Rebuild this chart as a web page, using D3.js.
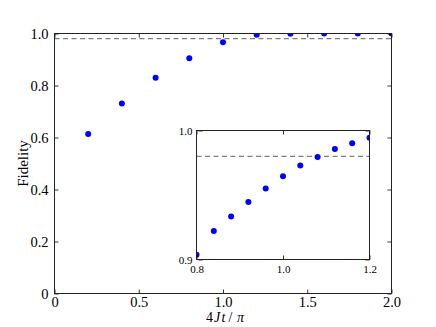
<!DOCTYPE html>
<html>
<head>
<meta charset="utf-8">
<script src="https://cdn.jsdelivr.net/npm/d3@7"></script>
<style>
  html, body { margin: 0; padding: 0; background: #fff; }
  svg { display: block; }
  text { font-family: "Liberation Serif", "Times New Roman", serif; fill: #000; }
</style>
</head>
<body>
<svg id="chart" width="436" height="327"></svg>
<script>
// ---- data ----
const mainT = [0.2, 0.4, 0.6, 0.8, 1.0, 1.2, 1.4, 1.6, 1.8, 2.0];
const mainFidelity = [0.613, 0.731, 0.830, 0.905, 0.966, 0.995, 0.9995, 0.9998, 0.9999, 1.0];
const insetT = [0.80, 0.84, 0.88, 0.92, 0.96, 1.00, 1.04, 1.08, 1.12, 1.16, 1.20];
const insetFidelity = [0.9036, 0.9221, 0.9333, 0.9446, 0.9551, 0.9646, 0.9728, 0.9795, 0.9856, 0.9902, 0.9944];
const threshold = [0.98];
const mainXTicks = [0, 0.5, 1.0, 1.5, 2.0];
const mainXTickLabels = ["0", "0.5", "1.0", "1.5", "2.0"];
const mainYTicks = [0, 0.2, 0.4, 0.6, 0.8, 1.0];
const mainYTickLabels = ["0", "0.2", "0.4", "0.6", "0.8", "1.0"];
const insetXTicks = [0.8, 1.0, 1.2];
const insetXTickLabels = ["0.8", "1.0", "1.2"];
const insetYTicks = [0.9, 1.0];
const insetYTickLabels = ["0.9", "1.0"];

const svg = d3.select("#chart");
const defs = svg.append("defs");

function panel(opts) {
  const {x0, x1, y0, y1, xDom, yDom, xs, ys, xTicks, xLabels, yTicks, yLabels, fs, id, r} = opts;
  const x = d3.scaleLinear().domain(xDom).range([x0, x1]);
  const y = d3.scaleLinear().domain(yDom).range([y1, y0]);
  const g = svg.append("g");
  g.append("rect").attr("x", x0).attr("y", y0).attr("width", x1 - x0).attr("height", y1 - y0)
    .attr("fill", "#fff");
  defs.append("clipPath").attr("id", id).append("rect")
    .attr("x", x0).attr("y", y0).attr("width", x1 - x0).attr("height", y1 - y0);
  const clip = g.append("g").attr("clip-path", `url(#${id})`);
  clip.selectAll("line.thr").data(threshold).join("line")
    .attr("x1", x0).attr("x2", x1).attr("y1", d => y(d)).attr("y2", d => y(d))
    .attr("stroke", "#808080").attr("stroke-width", 1.3).attr("stroke-dasharray", "5,3.5");
  clip.selectAll("circle").data(xs.map((d, i) => [d, ys[i]])).join("circle")
    .attr("cx", d => x(d[0])).attr("cy", d => y(d[1])).attr("r", r).attr("fill", "#0000ff");

  const fmtX = (d) => xLabels[xTicks.indexOf(d)];
  const fmtY = (d) => yLabels[yTicks.indexOf(d)];
  const tl = 4;
  const axB = g.append("g").attr("transform", `translate(0,${y1})`)
    .call(d3.axisBottom(x).tickValues(xTicks).tickFormat(fmtX).tickSize(-tl).tickPadding(tl + 3));
  const axT = g.append("g").attr("transform", `translate(0,${y0})`)
    .call(d3.axisTop(x).tickValues(xTicks).tickFormat("").tickSize(-tl));
  const axL = g.append("g").attr("transform", `translate(${x0},0)`)
    .call(d3.axisLeft(y).tickValues(yTicks).tickFormat(fmtY).tickSize(-tl).tickPadding(tl + 2));
  const axR = g.append("g").attr("transform", `translate(${x1},0)`)
    .call(d3.axisRight(y).tickValues(yTicks).tickFormat("").tickSize(-tl));
  [axB, axT, axL, axR].forEach(a => {
    a.attr("font-family", null);
    a.select(".domain").remove();
    a.selectAll("line").attr("stroke", "#000").attr("stroke-width", 0.8);
    a.selectAll("text").style("font-family", '"Liberation Serif", serif').style("font-size", fs + "px").attr("fill", "#000");
  });
  g.append("rect").attr("x", x0).attr("y", y0).attr("width", x1 - x0).attr("height", y1 - y0)
    .attr("fill", "none").attr("stroke", "#222").attr("stroke-width", 1);
  return {x, y, g, axB, axL};
}

const main = panel({x0: 54.5, x1: 391.5, y0: 33.5, y1: 293.5, xDom: [0, 2], yDom: [0, 1],
  xs: mainT, ys: mainFidelity, xTicks: mainXTicks, xLabels: mainXTickLabels,
  yTicks: mainYTicks, yLabels: mainYTickLabels, fs: 14.5, id: "clipMain", r: 3});
main.axB.selectAll("text").attr("dy", "0.42em");

const inset = panel({x0: 196.5, x1: 369.5, y0: 130.5, y1: 259.5, xDom: [0.8, 1.2], yDom: [0.9, 1.0],
  xs: insetT, ys: insetFidelity, xTicks: insetXTicks, xLabels: insetXTickLabels,
  yTicks: insetYTicks, yLabels: insetYTickLabels, fs: 11, id: "clipInset", r: 3});
inset.axB.selectAll("text").attr("dy", "0.55em");
inset.axL.attr("transform", "translate(198.5,0)");

// axis labels (x label built from separate pieces, mathtext-like spacing)
const xlab = svg.append("g").style("font-size", "14px");
const pieces = [
  {t: "4", it: false, x: 206},
  {t: "J", it: true, x: 214},
  {t: "t", it: true, x: 221.5},
  {t: "/", it: false, x: 228.5},
  {t: "π", it: true, x: 237}
];
xlab.selectAll("text").data(pieces).join("text")
  .attr("x", d => d.x).attr("y", 322)
  .style("font-style", d => d.it ? "italic" : "normal")
  .text(d => d.t);
svg.append("text").attr("transform", "translate(28,163.5) rotate(-90)")
  .attr("text-anchor", "middle").style("font-size", "15px").text("Fidelity");
</script>
</body>
</html>
